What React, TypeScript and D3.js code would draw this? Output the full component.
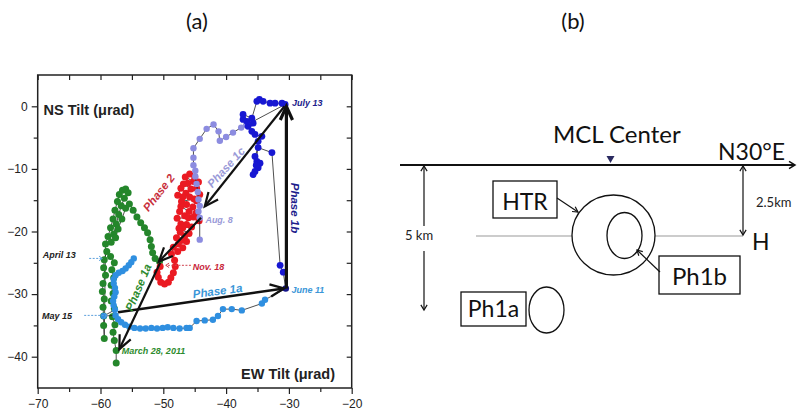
import React, { useEffect, useRef } from 'react'
import * as d3 from 'd3'

type Pt = [number, number]

// axis ticks
const xTicks = [-70, -60, -50, -40, -30, -20]
const yTicks = [-40, -30, -20, -10, 0]
const xMinor = [-65, -55, -45, -35, -25]
const yMinor = [-35, -25, -15, -5]

// tilt series (EW, NS) in microradians
const greenPts: Pt[] = [
  [-57.5, -41.0], [-57.5, -39.0], [-57.8, -37.4], [-58.0, -36.1], [-57.7, -34.9], [-58.1, -33.6],
  [-57.8, -32.3], [-58.3, -31.1], [-58.0, -29.9], [-58.3, -28.6], [-57.9, -27.4], [-58.2, -26.1],
  [-57.8, -25.0], [-58.4, -24.0], [-59.0, -23.2], [-59.4, -24.5], [-59.5, -25.8], [-59.2, -27.0],
  [-59.6, -28.3], [-59.7, -29.6], [-59.4, -30.8], [-59.6, -32.1], [-59.5, -33.5], [-59.5, -35.0],
  [-59.4, -37.1], [-59.2, -22.0], [-58.8, -20.8], [-58.4, -19.4], [-58.0, -18.0], [-57.7, -16.6],
  [-57.3, -15.2], [-57.0, -14.1], [-56.5, -13.4], [-56.0, -13.2], [-55.6, -13.8], [-56.2, -14.7],
  [-56.7, -15.9], [-57.1, -17.3], [-57.5, -18.8], [-57.9, -20.4], [-58.3, -21.7], [-57.6, -21.0],
  [-57.2, -19.6], [-56.6, -18.0], [-56.0, -16.3], [-55.4, -15.6], [-54.8, -16.6], [-54.2, -17.7],
  [-53.6, -18.6], [-53.0, -19.4], [-52.5, -20.2], [-52.1, -21.3], [-51.9, -22.4], [-51.7, -23.4],
  [-51.3, -24.3], [-50.6, -24.8],
]

const lightBluePts: Pt[] = [
  [-54.7, -24.3], [-55.1, -24.9], [-55.5, -25.4], [-56.0, -25.9], [-56.5, -26.3], [-57.1, -26.6],
  [-57.6, -27.0], [-57.9, -27.6], [-57.9, -28.3], [-57.7, -29.0], [-57.6, -29.7], [-57.8, -30.4],
  [-58.0, -31.1], [-57.9, -31.8], [-57.7, -32.5], [-59.5, -33.5], [-57.6, -33.4], [-57.2, -34.0],
  [-56.7, -34.5], [-56.1, -34.9], [-55.4, -35.2], [-54.6, -35.4], [-53.7, -35.5], [-52.8, -35.5],
  [-51.9, -35.4], [-51.0, -35.5], [-50.1, -35.4], [-49.3, -35.3], [-48.4, -35.4], [-47.4, -35.5],
  [-46.3, -35.4], [-45.8, -35.4], [-44.7, -34.3], [-43.4, -34.2], [-42.1, -34.1], [-41.3, -33.5],
  [-40.5, -32.4], [-39.1, -32.4], [-37.5, -32.6], [-34.3, -31.5], [-33.8, -30.9],
]

const june11: Pt = [-30.5, -29.1]
const july13: Pt = [-30.6, 0.3]

const darkBluePts: Pt[] = [
  [-30.9, -26.5], [-31.4, -25.4], [-32.7, -7.4], [-34.9, -6.6], [-35.4, -8.0], [-35.1, -8.8],
  [-34.6, -9.1], [-34.9, -9.8], [-35.4, -10.4], [-35.7, -10.9], [-35.2, -9.4], [-34.9, -5.6],
  [-34.3, -4.8], [-35.4, -4.5], [-35.9, -4.0], [-36.5, -3.2], [-35.7, -2.7], [-36.7, -2.4],
  [-37.3, -2.1], [-37.3, -1.3], [-35.9, -1.9], [-35.1, 0.8], [-34.7, 1.1], [-34.1, 0.8],
  [-33.0, 0.5], [-32.2, 0.5], [-31.1, 0.5], [-30.6, 0.3],
]

const purplePts: Pt[] = [
  [-36.8, -3.0], [-37.6, -3.4], [-38.9, -4.2], [-40.0, -4.9], [-41.0, -5.5], [-41.2, -4.0],
  [-42.0, -2.9], [-43.1, -3.6], [-44.2, -5.2], [-45.2, -6.7], [-45.2, -8.2], [-45.2, -9.4],
  [-44.9, -10.3], [-44.9, -11.2], [-44.7, -12.4], [-44.5, -13.7], [-44.4, -14.9], [-44.2, -15.9],
  [-44.4, -16.8], [-44.2, -17.8], [-44.2, -21.3],
]

const redPts: Pt[] = [
  [-44.3, -18.3], [-44.8, -17.1], [-45.3, -16.1], [-44.7, -15.1], [-44.2, -14.1], [-44.7, -13.1],
  [-44.4, -12.1], [-45.0, -11.3], [-45.8, -10.8], [-46.5, -11.3], [-45.2, -12.0], [-46.1, -12.3],
  [-46.8, -12.4], [-45.6, -13.2], [-46.4, -13.9], [-47.2, -13.1], [-47.7, -14.2], [-46.9, -14.5],
  [-45.8, -14.5], [-45.1, -14.8], [-47.1, -15.2], [-46.3, -15.7], [-47.2, -16.0], [-45.9, -16.8],
  [-46.6, -17.5], [-47.4, -16.8], [-46.0, -17.8], [-45.2, -17.7], [-47.8, -17.9], [-47.2, -18.8],
  [-46.3, -18.9], [-45.5, -19.3], [-46.9, -19.4], [-47.5, -19.5], [-45.9, -20.3], [-46.6, -20.7],
  [-47.3, -20.1], [-47.9, -21.0], [-47.0, -21.4], [-46.3, -21.6], [-47.6, -22.0], [-46.9, -22.6],
  [-47.7, -23.2], [-48.4, -22.5], [-48.7, -23.6], [-48.2, -24.6], [-48.1, -25.6], [-48.4, -26.6],
  [-48.8, -27.4], [-49.2, -28.1], [-49.8, -28.4], [-50.4, -28.1], [-50.8, -27.3], [-51.0, -26.5],
  [-50.5, -25.6],
]

// phase arrows: [from, to]
const phase1aBlue: Pt[] = [[-57.2, -32.9], [-30.8, -29.1]]
const phase1b: Pt[] = [[-30.4, -29.1], [-30.4, 0.0]]
const phase1c: Pt[] = [[-30.7, 0.0], [-43.4, -16.0]]
const phase2: Pt[] = [[-44.0, -17.8], [-50.7, -24.8]]
const phase1aGreen: Pt[] = [[-50.5, -25.0], [-57.0, -38.8]]

// dotted date pointers: [from, to]
const april13Ptr: Pt[] = [[-61.8, -24.3], [-59.7, -24.3]]
const may15Ptr: Pt[] = [[-62.6, -33.4], [-58.9, -33.4]]
const nov18Ptr: Pt[] = [[-45.6, -25.4], [-49.6, -25.4]]

const GREEN = '#24862b'
const LBLUE = '#2f8fe0'
const DBLUE = '#1717d2'
const PURPLE = '#8c8ce0'
const RED = '#ea1a22'

function headPath(p1: number[], p2: number[], len: number, spread: number) {
  const a = Math.atan2(p2[1] - p1[1], p2[0] - p1[0])
  const h1 = [p2[0] - len * Math.cos(a - spread), p2[1] - len * Math.sin(a - spread)]
  const h2 = [p2[0] - len * Math.cos(a + spread), p2[1] - len * Math.sin(a + spread)]
  return `M${h1[0]},${h1[1]}L${p2[0]},${p2[1]}L${h2[0]},${h2[1]}`
}

function ChartA() {
  const gRef = useRef<SVGGElement>(null)

  useEffect(() => {
    const g = d3.select(gRef.current)
    g.selectAll('*').remove()

    const x = d3.scaleLinear().domain([-70, -20]).range([37.7, 351.7])
    const y = d3.scaleLinear().domain([-45, 5]).range([388, 75])
    const font = 'Liberation Sans, Arial, sans-serif'

    // axes
    const styleAxis = (sel: any) => {
      sel.select('.domain').remove()
      sel.selectAll('line').attr('stroke', '#222').attr('stroke-width', 1.2)
      sel.selectAll('text').attr('font-family', font).attr('font-size', 12).attr('fill', '#222')
    }
    g.append('g').attr('transform', 'translate(0,388)')
      .call(d3.axisBottom(x).tickValues(xTicks).tickSize(6).tickPadding(5)).call(styleAxis)
    g.append('g').attr('transform', 'translate(0,388)')
      .call(d3.axisBottom(x).tickValues(xMinor).tickSize(4).tickFormat(() => '')).call(styleAxis)
    g.append('g').attr('transform', 'translate(37.7,0)')
      .call(d3.axisLeft(y).tickValues(yTicks).tickSize(6).tickPadding(4)).call(styleAxis)
    g.append('g').attr('transform', 'translate(37.7,0)')
      .call(d3.axisLeft(y).tickValues(yMinor).tickSize(4).tickFormat(() => '')).call(styleAxis)
    g.append('g').attr('transform', 'translate(0,75)')
      .call(d3.axisTop(x).tickValues([...xTicks, ...xMinor]).tickSize(-5).tickFormat(() => '')).call(styleAxis)
    g.append('g').attr('transform', 'translate(351.7,0)')
      .call(d3.axisRight(y).tickValues([...yTicks, ...yMinor]).tickSize(-5).tickFormat(() => '')).call(styleAxis)

    g.append('rect').attr('x', 37.7).attr('y', 75).attr('width', 314).attr('height', 313)
      .attr('fill', 'none').attr('stroke', '#222').attr('stroke-width', 1.5)

    const line = d3.line<Pt>().x(d => x(d[0])).y(d => y(d[1]))

    const series = (pts: Pt[], linePts: Pt[], color: string, r: number) => {
      g.append('path').attr('d', line(linePts)).attr('fill', 'none')
        .attr('stroke', '#222').attr('stroke-width', 0.8)
      g.append('g').selectAll('circle').data(pts).join('circle')
        .attr('cx', d => x(d[0])).attr('cy', d => y(d[1])).attr('r', r).attr('fill', color)
    }

    series(greenPts, greenPts, GREEN, 3.5)
    series(lightBluePts, [...lightBluePts, june11], LBLUE, 3.2)
    series(redPts, redPts, RED, 3.5)
    series(purplePts, [july13, ...purplePts], PURPLE, 3.2)
    series(darkBluePts, [june11, ...darkBluePts], DBLUE, 3.4)
    g.append('circle').attr('cx', x(june11[0])).attr('cy', y(june11[1])).attr('r', 3.3).attr('fill', '#14148a')

    // dotted date pointers
    const pointer = (pts: Pt[], color: string) => {
      const p1 = [x(pts[0][0]), y(pts[0][1])]
      const p2 = [x(pts[1][0]), y(pts[1][1])]
      g.append('line').attr('x1', p1[0]).attr('y1', p1[1]).attr('x2', p2[0]).attr('y2', p2[1])
        .attr('stroke', color).attr('stroke-width', 1).attr('stroke-dasharray', '2,1.5')
      g.append('path').attr('d', headPath(p1, p2, 4, 0.6)).attr('fill', 'none')
        .attr('stroke', color).attr('stroke-width', 1)
    }
    pointer(april13Ptr, '#5a9fdc')
    pointer(may15Ptr, '#5a9fdc')
    pointer(nov18Ptr, '#d0404e')

    // phase arrows
    const arrow = (pts: Pt[], w: number) => {
      const p1 = [x(pts[0][0]), y(pts[0][1])]
      const p2 = [x(pts[1][0]), y(pts[1][1])]
      g.append('line').attr('x1', p1[0]).attr('y1', p1[1]).attr('x2', p2[0]).attr('y2', p2[1])
        .attr('stroke', '#111').attr('stroke-width', w)
      g.append('path').attr('d', headPath(p1, p2, 15, 0.42)).attr('fill', 'none')
        .attr('stroke', '#111').attr('stroke-width', w).attr('stroke-linejoin', 'miter')
    }
    arrow(phase1aBlue, 2.4)
    arrow(phase1b, 3.2)
    arrow(phase1c, 2.2)
    arrow(phase2, 2.2)
    arrow(phase1aGreen, 2.2)

    // labels
    const label = (txt: string, px: number, py: number, color: string, size: number, rot = 0, anchor = 'start') => {
      g.append('text').attr('transform', `translate(${px},${py}) rotate(${rot})`)
        .attr('text-anchor', anchor).attr('font-family', font).attr('font-size', size)
        .attr('font-weight', 'bold').attr('font-style', 'italic').attr('fill', color).text(txt)
    }
    label('July 13', x(-29.5), y(0), '#1c1c8c', 9)
    label('June 11', x(-29.6), y(-29.9), '#3a96d8', 9)
    label('Aug. 8', x(-43.3), y(-18.6), '#9a9ad8', 9)
    label('Nov. 18', x(-45.3), y(-26.1), '#c8283c', 9)
    label('April 13', x(-69.2), y(-24.3), '#222', 9)
    label('May 15', x(-69.3), y(-34.0), '#222', 9)
    label('March 28, 2011', x(-56.6), y(-39.6), '#2e8b2e', 9)

    label('Phase 1a', 218, 295, '#3a96d8', 11.5, -7.5, 'middle')
    label('Phase 1b', 291, 208, '#1c1c8c', 11.5, 90, 'middle')
    label('Phase 1c', 229, 170, '#9a9ad8', 11.5, -48, 'middle')
    label('Phase 2', 162, 195, '#c8303c', 11.5, -52, 'middle')
    label('Phase 1a', 142, 289, '#2e8b2e', 11.5, -67, 'middle')

    g.append('text').attr('x', 43.5).attr('y', 114.5).attr('font-family', font).attr('font-size', 14.5)
      .attr('font-weight', 'bold').attr('fill', '#222').text('NS Tilt (\u03bcrad)')
    g.append('text').attr('x', 241).attr('y', 379).attr('font-family', font).attr('font-size', 14.5)
      .attr('font-weight', 'bold').attr('fill', '#222').text('EW Tilt (\u03bcrad)')
  }, [])

  return <g ref={gRef} />
}

function ChartB() {
  const f = 'Lato, sans-serif'
  const stroke = '#111'
  return (
    <g>
      <line x1={400} y1={165} x2={794} y2={165} stroke={stroke} strokeWidth={1.8} />
      <path d={headPath([700, 165], [795, 165], 7, 0.55)} fill="none" stroke={stroke} strokeWidth={1.5} />
      <polygon points="606.5,156 614.5,156 610.5,163" fill="#2a2a60" />
      <text x={553} y={143} fontFamily={f} fontSize={24} fill={stroke}>MCL Center</text>
      <text x={718} y={160} fontFamily={f} fontSize={23} fill={stroke}>N30°E</text>

      <line x1={424} y1={167} x2={424} y2={226} stroke={stroke} strokeWidth={1.2} />
      <line x1={424} y1={251} x2={424} y2={309} stroke={stroke} strokeWidth={1.2} />
      <path d={headPath([424, 200], [424, 166], 6, 0.55)} fill="none" stroke={stroke} strokeWidth={1.2} />
      <path d={headPath([424, 280], [424, 310], 6, 0.55)} fill="none" stroke={stroke} strokeWidth={1.2} />
      <text x={405} y={240} fontFamily={f} fontSize={13} fill="#222">5 km</text>

      <rect x={493} y={181} width={64} height={37} fill="none" stroke={stroke} strokeWidth={1.3} />
      <text x={525} y={210} textAnchor="middle" fontFamily={f} fontSize={23} fill={stroke}>HTR</text>
      <line x1={557} y1={198} x2={578} y2={212} stroke={stroke} strokeWidth={1.2} />
      <path d={headPath([557, 198], [578, 212], 6, 0.5)} fill="none" stroke={stroke} strokeWidth={1.2} />

      <line x1={476} y1={236} x2={572} y2={236} stroke="#999" strokeWidth={1.2} />
      <line x1={655} y1={236} x2={743} y2={236} stroke="#999" strokeWidth={1.2} />
      <ellipse cx={613.5} cy={235} rx={41.5} ry={40} fill="none" stroke={stroke} strokeWidth={1.3} />
      <ellipse cx={624.5} cy={235.5} rx={17.5} ry={23} fill="none" stroke={stroke} strokeWidth={1.3} />

      <line x1={743} y1={167} x2={743} y2={234} stroke={stroke} strokeWidth={1.2} />
      <path d={headPath([743, 200], [743, 166], 6, 0.55)} fill="none" stroke={stroke} strokeWidth={1.2} />
      <path d={headPath([743, 200], [743, 235], 6, 0.55)} fill="none" stroke={stroke} strokeWidth={1.2} />
      <text x={756} y={207} fontFamily={f} fontSize={13} fill="#222">2.5km</text>
      <text x={752} y={250} fontFamily={f} fontSize={23} fill={stroke}>H</text>

      <rect x={659} y={256} width={81} height={38} fill="none" stroke={stroke} strokeWidth={1.3} />
      <text x={699.5} y={285} textAnchor="middle" fontFamily={f} fontSize={24} fill={stroke}>Ph1b</text>
      <line x1={660} y1={272} x2={637} y2={250} stroke={stroke} strokeWidth={1.2} />
      <path d={headPath([660, 272], [637, 250], 6, 0.5)} fill="none" stroke={stroke} strokeWidth={1.2} />

      <rect x={461} y={292} width={65} height={34} fill="none" stroke={stroke} strokeWidth={1.3} />
      <text x={493.5} y={317} textAnchor="middle" fontFamily={f} fontSize={23} fill={stroke}>Ph1a</text>
      <ellipse cx={546.5} cy={310} rx={17.5} ry={23} fill="none" stroke={stroke} strokeWidth={1.3} />
    </g>
  )
}

export default function App() {
  return (
    <svg width={798} height={412} style={{ position: 'absolute', left: 0, top: 0, background: '#fff' }}>
      <text x={197} y={29} textAnchor="middle" fontFamily="Lato, sans-serif" fontSize={22} fill="#111">(a)</text>
      <text x={573} y={29} textAnchor="middle" fontFamily="Lato, sans-serif" fontSize={22} fill="#111">(b)</text>
      <ChartA />
      <ChartB />
    </svg>
  )
}
